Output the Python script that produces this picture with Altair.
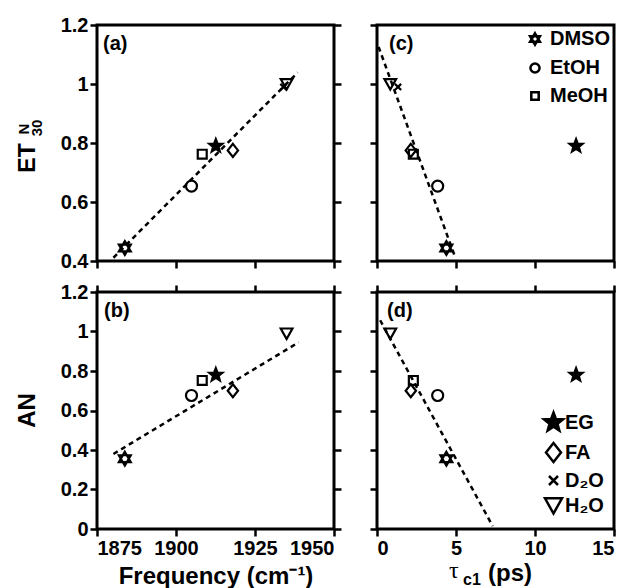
import altair as alt
import pandas as pd

# ---------------- data ----------------
solvents = ["DMSO", "EtOH", "MeOH", "EG", "FA", "D₂O", "H₂O"]
freq = [1883.8, 1904.9, 1908.3, 1912.6, 1918.0, 1934.0, 1935.0]      # cm-1
tau_c1 = [4.39, 3.84, 2.30, 12.6, 2.14, 1.33, 0.84]                   # ps
et30n = [0.444, 0.654, 0.762, 0.790, 0.775, 0.99, 1.0]
an = [0.356, 0.676, 0.752, 0.780, 0.700, None, 0.99]

# dashed linear fits (end points)
fit_a_x = [1880.2, 1938.5]
fit_a_y = [0.411, 1.039]
fit_b_x = [1880.2, 1938.8]
fit_b_y = [0.380, 0.945]
fit_c_x = [0.10, 4.96]
fit_c_y = [1.126, 0.411]
fit_d_x = [0.20, 7.32]
fit_d_y = [1.057, 0.015]

freq_ticks = [1875, 1900, 1925, 1950]
tau_ticks = [0, 5, 10, 15]
et_ticks = [0.4, 0.6, 0.8, 1.0, 1.2]
an_ticks = [0, 0.2, 0.4, 0.6, 0.8, 1.0, 1.2]

panel_labels = ["(a)", "(b)", "(c)", "(d)"]
legend_c = ["DMSO", "EtOH", "MeOH"]
legend_d = ["EG", "FA", "D₂O", "H₂O"]

# ---------------- styling ----------------
FONT = "Liberation Sans"
HEX = "M0,-1L0.866,0.5L-0.866,0.5ZM0,1L0.866,-0.5L-0.866,-0.5Z"
CIRC = "M0.8,0A0.8,0.8 0 1,1 -0.8,0A0.8,0.8 0 1,1 0.8,0Z"
SQR = "M-0.65,-0.65L0.65,-0.65L0.65,0.65L-0.65,0.65Z"
STAR = ("M0,-1L0.247,-0.34L0.951,-0.309L0.399,0.13L0.588,0.809L0,0.42"
        "L-0.588,0.809L-0.399,0.13L-0.951,-0.309L-0.247,-0.34Z")
DIAM = "M0,-0.95L0.75,0L0,0.95L-0.75,0Z"
XMK = "M-0.45,-0.45L0.45,0.45M-0.45,0.45L0.45,-0.45"
TRI = "M-0.85,-0.72L0.85,-0.72L0,0.8Z"
shape_range = [HEX, CIRC, SQR, STAR, DIAM, XMK, TRI]
fill_range = ["transparent", "transparent", "transparent", "black",
              "transparent", "transparent", "transparent"]
stroke_range = ["black"] * 7

W, H = 237, 236

df = pd.DataFrame({"solvent": solvents, "freq": freq, "tau": tau_c1,
                   "et": et30n, "an": an})


def make_legend(values, orient, size, offset, label_offset, row_pad):
    return alt.Legend(values=values, orient=orient, title=None,
                      symbolSize=size, symbolStrokeColor="black",
                      symbolStrokeWidth=2.5, labelFont=FONT,
                      labelFontSize=20, labelFontWeight="bold",
                      labelColor="black", rowPadding=row_pad, padding=0,
                      offset=offset, labelOffset=label_offset)


def panel(xf, yf, xdom, ydom, xt, yt, fx, fy, label, ldx,
          xlabels, ylabels, top_ticks, right_ticks, legend=None,
          xtitle=None, ytitle=None):
    d = df.dropna(subset=[yf])
    xaxis = alt.Axis(values=xt, labels=xlabels, title=xtitle, orient="bottom",
                     format="d", titleFontSize=24, titleBaseline="alphabetic",
                     titleY=54)
    yaxis = alt.Axis(values=yt, labels=ylabels, title=ytitle, orient="left",
                     format="~g", titleAngle=270, titleBaseline="alphabetic",
                     titleX=-63, titleY=H / 2, titleFontSize=24)
    pts = alt.Chart(d).mark_point(size=190, filled=True, strokeWidth=2.2,
                                  opacity=1).encode(
        x=alt.X(f"{xf}:Q", scale=alt.Scale(domain=xdom, nice=False, zero=False),
                axis=xaxis),
        y=alt.Y(f"{yf}:Q", scale=alt.Scale(domain=ydom, nice=False, zero=False),
                axis=yaxis),
        shape=alt.Shape("solvent:N", scale=alt.Scale(domain=solvents, range=shape_range),
                        legend=legend),
        fill=alt.Fill("solvent:N", scale=alt.Scale(domain=solvents, range=fill_range),
                      legend=legend),
        stroke=alt.Stroke("solvent:N", scale=alt.Scale(domain=solvents, range=stroke_range),
                          legend=legend),
    )
    fit = pd.DataFrame({xf: fx, yf: fy})
    top_axis = (alt.Axis(values=xt, labels=False, title=None, orient="top")
                if top_ticks else None)
    right_axis = (alt.Axis(values=yt, labels=False, title=None, orient="right")
                  if right_ticks else None)
    line = alt.Chart(fit).mark_line(color="black", strokeWidth=2.5,
                                    strokeDash=[5, 4]).encode(
        x=alt.X(f"{xf}:Q", scale=alt.Scale(domain=xdom, nice=False, zero=False),
                axis=top_axis),
        y=alt.Y(f"{yf}:Q", scale=alt.Scale(domain=ydom, nice=False, zero=False),
                axis=right_axis),
    )
    lab = alt.Chart(pd.DataFrame({"t": [label]})).mark_text(
        font=FONT, fontSize=20, fontWeight="bold", align="left",
        baseline="alphabetic", color="black").encode(
        text="t:N", x=alt.value(ldx), y=alt.value(25))
    return [line, pts, lab]


# panel (a)
la = panel("freq", "et", [1875, 1950], [0.4, 1.2], freq_ticks, et_ticks,
           fit_a_x, fit_a_y, panel_labels[0], 6, False, True, False, True)
et_title = [
    alt.Chart(pd.DataFrame({"t": ["ET"]})).mark_text(
        font=FONT, fontSize=23, fontWeight="bold", angle=270, align="center",
        baseline="alphabetic", color="black").encode(
        text="t:N", x=alt.value(-62), y=alt.value(133)),
    alt.Chart(pd.DataFrame({"t": ["N"]})).mark_text(
        font=FONT, fontSize=15, fontWeight="bold", angle=270, align="center",
        baseline="alphabetic", color="black").encode(
        text="t:N", x=alt.value(-68), y=alt.value(104)),
    alt.Chart(pd.DataFrame({"t": ["30"]})).mark_text(
        font=FONT, fontSize=15, fontWeight="bold", angle=270, align="center",
        baseline="alphabetic", color="black").encode(
        text="t:N", x=alt.value(-55), y=alt.value(103)),
]
pa = alt.layer(*la, *et_title).properties(width=W, height=H).resolve_axis(
    x="independent", y="independent")

# panel (c)
lc = panel("tau", "et", [0, 15], [0.4, 1.2], tau_ticks, et_ticks,
           fit_c_x, fit_c_y, panel_labels[2], 12, False, False, False, False,
           legend=make_legend(legend_c, "top-right", 130, 4, 5, 8))
pc = alt.layer(*lc).properties(width=W, height=H).resolve_axis(
    x="independent", y="independent")

# panel (b)
lb = panel("freq", "an", [1875, 1950], [0, 1.2], freq_ticks, an_ticks,
           fit_b_x, fit_b_y, panel_labels[1], 7, True, True, True, True,
           xtitle="Frequency (cm⁻¹)", ytitle="AN")
pb = alt.layer(*lb).properties(width=W, height=H + 1).resolve_axis(
    x="independent", y="independent")

# panel (d)
ld = panel("tau", "an", [0, 15], [0, 1.2], tau_ticks, an_ticks,
           fit_d_x, fit_d_y, panel_labels[3], 10, True, False, True, False,
           legend=make_legend(legend_d, "bottom-right", 400, 10, 0, 2))
tau_title = [
    alt.Chart(pd.DataFrame({"t": ["τ"]})).mark_text(
        font="Liberation Serif", fontSize=24, align="left",
        baseline="alphabetic", color="black").encode(
        text="t:N", x=alt.value(72), y=alt.value(286)),
    alt.Chart(pd.DataFrame({"t": ["c1"]})).mark_text(
        font=FONT, fontSize=16, fontWeight="bold", align="left",
        baseline="alphabetic", color="black").encode(
        text="t:N", x=alt.value(86), y=alt.value(293)),
    alt.Chart(pd.DataFrame({"t": ["(ps)"]})).mark_text(
        font=FONT, fontSize=24, fontWeight="bold", align="left",
        baseline="alphabetic", color="black").encode(
        text="t:N", x=alt.value(111), y=alt.value(289)),
]
pdd = alt.layer(*ld, *tau_title).properties(width=W, height=H + 1).resolve_axis(
    x="independent", y="independent")

chart = alt.concat(pa, pc, pb, pdd, columns=2, spacing={"row": 31, "column": 43},
                   bounds="flush").resolve_scale(
    shape="independent", fill="independent", stroke="independent",
    x="independent", y="independent").resolve_legend(
    shape="independent", fill="independent", stroke="independent")

chart = chart.properties(
    padding={"left": 13, "top": 13, "right": 0, "bottom": 3},
    background="white",
).configure_axis(
    labelFont=FONT, labelFontSize=20, labelFontWeight="bold", labelColor="black",
    titleFont=FONT, titleFontWeight="bold", titleColor="black",
    tickColor="black", tickWidth=2.5, tickSize=7, domain=False, grid=False,
    labelPadding=2,
).configure_view(stroke="black", strokeWidth=3)

chart.save("out.html", embed_options={"renderer": "svg", "actions": False})
